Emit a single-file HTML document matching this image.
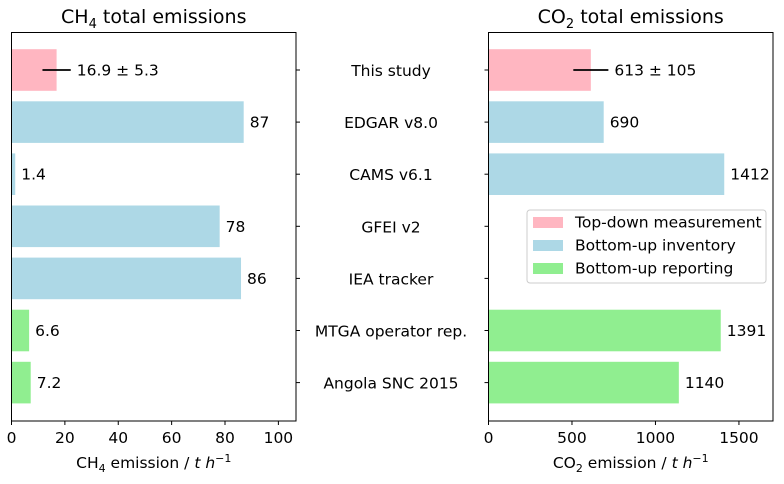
<!DOCTYPE html>
<html><head><meta charset="utf-8"><style>
body{margin:0;background:#fff}
svg text{font-family:"DejaVu Sans","Liberation Sans",sans-serif;fill:#000}
</style></head><body>
<svg id="c" width="784" height="479" xmlns="http://www.w3.org/2000/svg"></svg>
<script>
const categories=["This study","EDGAR v8.0","CAMS v6.1","GFEI v2","IEA tracker","MTGA operator rep.","Angola SNC 2015"];
const groups=["top","bottom","bottom","bottom","bottom","report","report"];
const ch4Values=[16.9,87,1.4,78,86,6.6,7.2];
const ch4Labels=["16.9 ± 5.3","87","1.4","78","86","6.6","7.2"];
const ch4Err=5.3;
const co2Values=[613,690,1412,null,null,1391,1140];
const co2Labels=["613 ± 105","690","1412","","","1391","1140"];
const co2Err=105;
const ch4Ticks=[0,20,40,60,80,100];
const co2Ticks=[0,500,1000,1500];
const legendLabels=["Top-down measurement","Bottom-up inventory","Bottom-up reporting"];
const colors={top:"#ffb6c1",bottom:"#add8e6",report:"#90ee90"};
const svg=document.getElementById('c');const NS="http://www.w3.org/2000/svg";
const FS=15.5;
function el(t,a,txt){const e=document.createElementNS(NS,t);for(const k in a)e.setAttribute(k,a[k]);if(txt!==undefined)e.textContent=txt;svg.appendChild(e);return e;}
const yTop=32.5,yBot=421,step=52.1,y0=70;
function yc(i){return y0+i*step;}
function panel(x0,x1,xmax,vals,labels,err,ticks,title,xl,name,tickSide){
  const sx=v=>x0+(v/xmax)*(x1-x0);
  vals.forEach((v,i)=>{if(v===null)return;
    const r=el('rect',{x:sx(0),y:yc(i)-20.8,width:sx(v)-sx(0),height:41.6,fill:colors[groups[i]]});
    
    let end=v;
    if(i===0){const l=el('line',{x1:sx(v-err),x2:sx(v+err),y1:yc(i),y2:yc(i),stroke:'#000','stroke-width':1.8});
      end=v+err;}
    const t=el('text',{x:sx(end)+6,y:yc(i)+5.5,'font-size':FS},labels[i]);
    
  });
  const f=el('rect',{x:x0,y:yTop,width:x1-x0,height:yBot-yTop,fill:'none',stroke:'#000','stroke-width':1});
  
  ticks.forEach(tk=>{const x=sx(tk);el('line',{x1:x,x2:x,y1:yBot,y2:yBot+4,stroke:'#000'});
    const t=el('text',{x:x,y:yBot+22,'font-size':FS,'text-anchor':'middle'},tk);
    });
  categories.forEach((c,i)=>{const tx=tickSide==='right'?x1:x0;el('line',{x1:tx,x2:tickSide==='right'?tx+4:tx-4,y1:yc(i),y2:yc(i),stroke:'#000'});});
  const tt=el('text',{x:(x0+x1)/2,y:23,'font-size':19,'text-anchor':'middle'});tt.innerHTML=title;
  
  const xt=el('text',{x:(x0+x1)/2,y:468,'font-size':FS,'text-anchor':'middle'});xt.innerHTML=xl;
  
}
panel(11.5,296,106.6,ch4Values,ch4Labels,ch4Err,ch4Ticks,'CH<tspan font-size="13" dy="5">4</tspan><tspan dy="-5"> total emissions</tspan>','CH<tspan font-size="11" dy="4">4</tspan><tspan dy="-4"> emission / </tspan><tspan font-style="italic">t h</tspan><tspan font-size="11" dy="-6">−1</tspan>','ch4','right');
panel(488.5,773,1704,co2Values,co2Labels,co2Err,co2Ticks,'CO<tspan font-size="13" dy="5">2</tspan><tspan dy="-5"> total emissions</tspan>','CO<tspan font-size="11" dy="4">2</tspan><tspan dy="-4"> emission / </tspan><tspan font-style="italic">t h</tspan><tspan font-size="11" dy="-6">−1</tspan>','co2','left');
categories.forEach((c,i)=>{const t=el('text',{x:391,y:yc(i)+6,'font-size':FS,'text-anchor':'middle'},c);
  });
const lg=el('rect',{x:527,y:210,width:239,height:73,rx:3,fill:'#fff',stroke:'#ccc'});

const lc=[colors.top,colors.bottom,colors.report];
legendLabels.forEach((l,i)=>{const y=222+i*23;
  el('rect',{x:533,y:y-5,width:30,height:11,fill:lc[i]});
  const t=el('text',{x:575,y:y+5.5,'font-size':FS},l);
  });
</script></body></html>
